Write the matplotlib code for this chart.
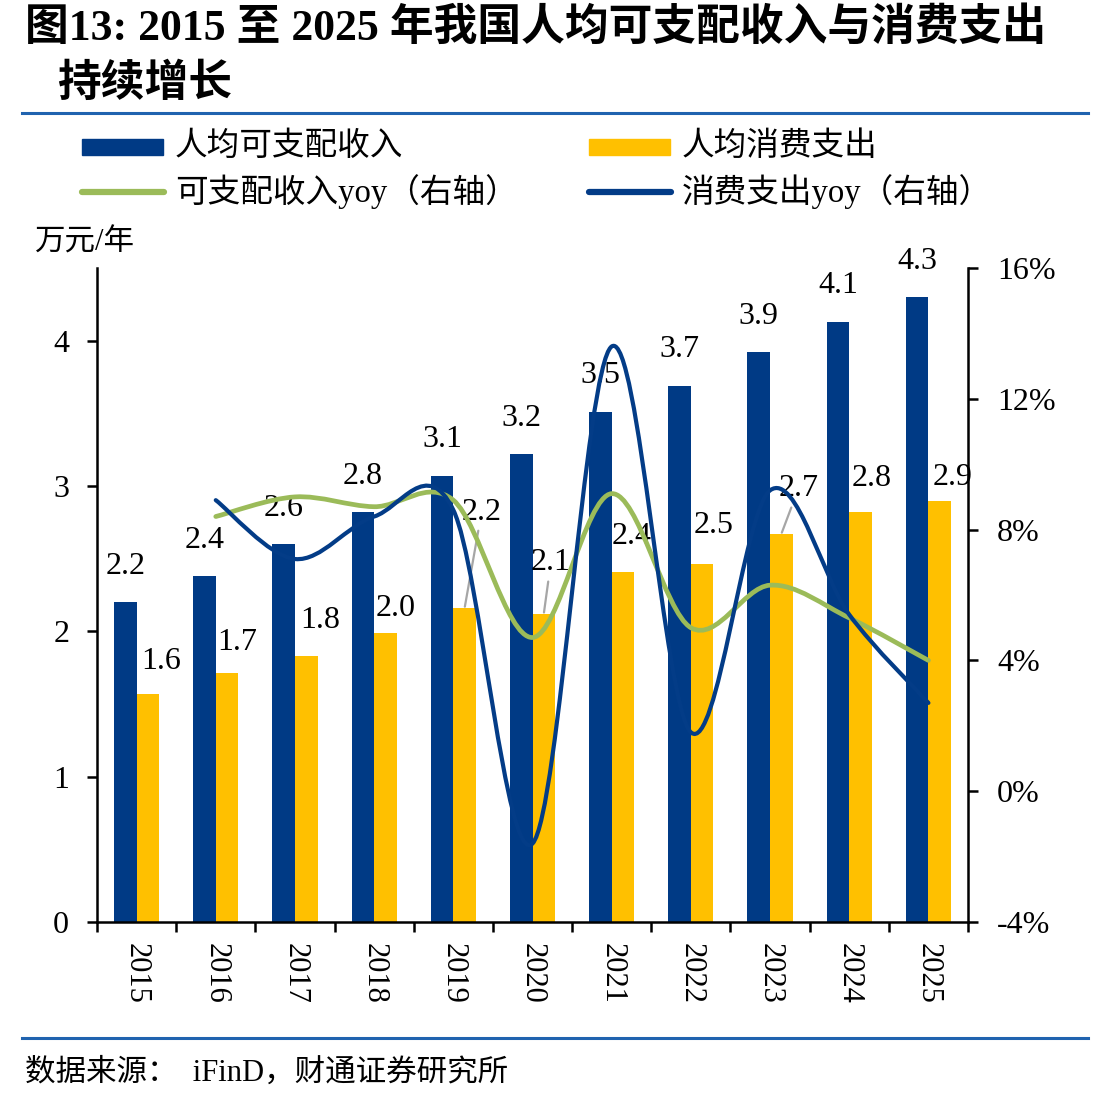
import matplotlib
matplotlib.use("Agg")
import matplotlib.pyplot as plt
import numpy as np
from matplotlib.path import Path
from matplotlib.patches import PathPatch, Rectangle
from matplotlib.lines import Line2D

plt.rcParams['font.family'] = ['Liberation Serif', 'Noto Sans CJK SC']

# --------------------
# Data
# --------------------
years = ['2015', '2016', '2017', '2018', '2019', '2020',
         '2021', '2022', '2023', '2024', '2025']
income = [2.20, 2.38, 2.60, 2.82, 3.07, 3.22, 3.51, 3.69, 3.92, 4.13, 4.30]    # 万元/年
consume = [1.57, 1.71, 1.83, 1.99, 2.16, 2.12, 2.41, 2.46, 2.67, 2.82, 2.90]   # 万元/年
yoy_years = years[1:]
income_yoy = [8.4, 9.0, 8.7, 8.9, 4.7, 9.1, 5.0, 6.3, 5.3, 4.0]     # %
consume_yoy = [8.9, 7.1, 8.4, 8.6, -1.6, 13.6, 1.8, 9.2, 5.4, 2.7]  # %

# label offsets in pixels (dx, dy) for the consumption bar labels
cons_offsets = [(13, 32), (10, 31), (14, 36), (10, 24), (17, 96), (7, 51),
                (9, 35), (11, 39), (17, 45), (11, 34), (13, 23)]
leader = [False, False, False, False, True, True, False, False, True, False, False]

C_INC = '#003A85'
C_CON = '#FFC000'
C_GREEN = '#9BBB59'
C_BLUE = '#033C87'
C_RULE = '#2063AF'

W, H = 1108, 1103
fx = lambda px: px / W
fy = lambda py: 1 - py / H


def smooth_path(x, y):
    # Excel-style smoothed line as cubic bezier segments
    pts = np.column_stack([x, y]).astype(float)
    n = len(pts)
    verts = [pts[0]]
    codes = [Path.MOVETO]
    for i in range(n - 1):
        p0 = pts[max(i - 1, 0)]
        p1 = pts[i]
        p2 = pts[i + 1]
        p3 = pts[min(i + 2, n - 1)]
        verts += [p1 + (p2 - p0) / 6, p2 - (p3 - p1) / 6, p2]
        codes += [Path.CURVE4] * 3
    return Path(verts, codes)


# --------------------
# Plot
# --------------------
fig = plt.figure(figsize=(W / 100, H / 100), dpi=100)
ax = fig.add_axes([fx(97), fy(922), (968 - 97) / W, (922 - 268) / H])
ax2 = ax.twinx()

x = np.arange(len(years))
bw = 0.285
ax.bar(x - bw / 2, income, bw, color=C_INC, zorder=2)
ax.bar(x + bw / 2, consume, bw, color=C_CON, zorder=2)

for xi, v in zip(x, income):
    ax.annotate(f"{v:.1f}", xy=(xi - bw / 2, v), xytext=(0, 36),
                textcoords='offset pixels', ha='center', va='center',
                fontsize=23, zorder=3)

for xi, v, (dx, dy), ld in zip(x, consume, cons_offsets, leader):
    kw = {}
    if ld:
        kw['arrowprops'] = dict(arrowstyle='-', color='#A6A6A6', lw=1.6,
                                shrinkA=1, shrinkB=1)
    ax.annotate(f"{v:.1f}", xy=(xi + bw / 2, v), xytext=(dx, dy),
                textcoords='offset pixels', ha='center', va='center',
                fontsize=23, zorder=3, **kw)

xl = x[1:]
ax2.add_patch(PathPatch(smooth_path(xl, income_yoy), fill=False,
                        edgecolor=C_GREEN, lw=3.4, capstyle='round',
                        joinstyle='round'))
ax2.add_patch(PathPatch(smooth_path(xl, consume_yoy), fill=False,
                        edgecolor=C_BLUE, lw=3.0, capstyle='round',
                        joinstyle='round'))

# --------------------
# Axes formatting
# --------------------
ax.set_xlim(-0.5, len(years) - 0.5)
ax.set_ylim(0, 4.5)
ax.set_yticks([0, 1, 2, 3, 4])
ax2.set_ylim(-4, 16)
ax2.set_yticks([-4, 0, 4, 8, 12, 16])
ax2.set_yticklabels([f"{v}%" for v in [-4, 0, 4, 8, 12, 16]])

ax.set_xticks(np.arange(-0.5, len(years)), [''] * (len(years) + 1))
ax.set_xticks(x, years, minor=True, rotation=270)
ax.tick_params(axis='x', which='minor', length=0, pad=15, labelsize=22)
ax.tick_params(axis='x', which='major', length=7, width=1.8, direction='out')
ax.tick_params(axis='y', length=7, width=1.8, pad=13, labelsize=23)
ax2.tick_params(axis='y', length=7, width=1.8, pad=14, labelsize=23)

for a in (ax, ax2):
    a.spines['top'].set_visible(False)
    for s in a.spines.values():
        s.set_linewidth(1.8)
ax.spines['right'].set_visible(False)
ax2.spines['left'].set_visible(False)
ax2.spines['bottom'].set_visible(False)

# --------------------
# Title, legend, notes
# --------------------
fig.text(fx(25), fy(28), "图13: 2015 至 2025 年我国人均可支配收入与消费支出",
         fontsize=31.5, fontweight='bold', va='center', ha='left')
fig.text(fx(57), fy(84), "持续增长", fontsize=31.5, fontweight='bold',
         va='center', ha='left')
fig.add_artist(Line2D([fx(22), fx(1088)], [fy(113), fy(113)], color=C_RULE, lw=2.2))
fig.add_artist(Line2D([fx(22), fx(1088)], [fy(1038), fy(1038)], color=C_RULE, lw=2.2))

leg_items = [
    ('bar', C_INC, 82, 147, "人均可支配收入"),
    ('bar', C_CON, 589, 147, "人均消费支出"),
    ('line', C_GREEN, 82, 192, "可支配收入yoy（右轴）"),
    ('line', C_BLUE, 589, 192, "消费支出yoy（右轴）"),
]
for kind, col, px, py, label in leg_items:
    if kind == 'bar':
        fig.add_artist(Rectangle((fx(px), fy(py + 8)), 81 / W, 16 / H,
                                 color=col, transform=fig.transFigure))
    else:
        fig.add_artist(Line2D([fx(px), fx(px + 82)], [fy(py), fy(py)],
                              color=col, lw=4.5, solid_capstyle='round'))
    fig.text(fx(px + 93), fy(py), label, fontsize=23.5, va='center', ha='left')

fig.text(fx(35), fy(243), "万元/年", fontsize=22, va='center', ha='left')
fig.text(fx(25), fy(1073), "数据来源：  iFinD，财通证券研究所", fontsize=22,
         va='center', ha='left')

plt.savefig('out.png', dpi=100)
